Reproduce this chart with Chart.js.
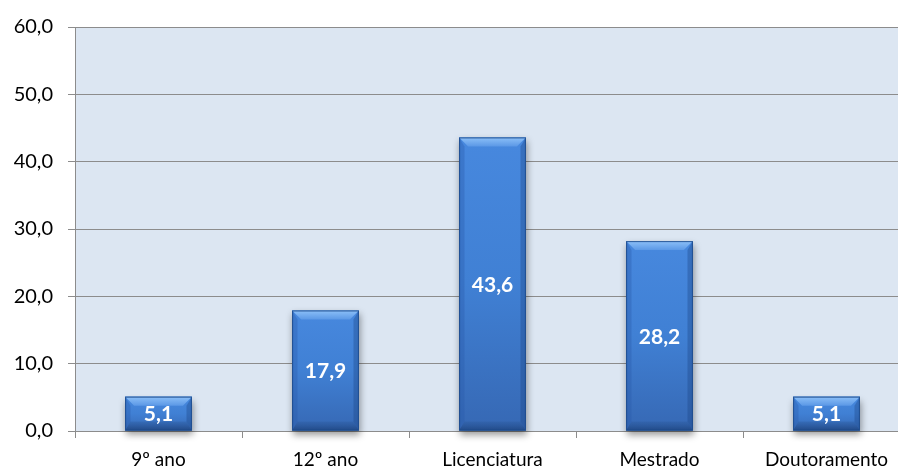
<!DOCTYPE html>
<html>
<head>
<meta charset="utf-8">
<script src="https://cdn.jsdelivr.net/npm/chart.js@4.4.1/dist/chart.umd.min.js"></script>
<style>
  html, body { margin: 0; padding: 0; background: #ffffff; overflow: hidden; }
  #wrap { width: 912px; height: 466px; }
</style>
</head>
<body>
<div id="wrap"><canvas id="c" width="912" height="466"></canvas></div>
<script>
// Education levels and share of respondents (%)
const categories = ['9º ano', '12º ano', 'Licenciatura', 'Mestrado', 'Doutoramento'];
const values = [5.1, 17.9, 43.6, 28.2, 5.1];
const yTicks = [0, 10, 20, 30, 40, 50, 60];

const FONT = 'Lato, "Open Sans", "Liberation Sans", sans-serif';
const fmt = v => v.toFixed(1).replace('.', ',');

// Light blue plot background
const plotBg = {
  id: 'plotBg',
  beforeDraw(chart) {
    const { ctx, chartArea: a } = chart;
    ctx.save();
    ctx.fillStyle = '#dce6f2';
    ctx.fillRect(a.left, a.top, a.right - a.left, a.bottom - a.top);
    ctx.restore();
  }
};

// Bevelled bar faces, soft drop shadow and value labels
const bevelBars = {
  id: 'bevelBars',
  beforeDatasetsDraw(chart) {
    const { ctx } = chart;
    const meta = chart.getDatasetMeta(0);
    ctx.save();
    meta.data.forEach(bar => {
      const l = bar.x - bar.width / 2, t = bar.y, h = bar.base - bar.y;
      ctx.shadowColor = 'rgba(0,0,0,0.4)';
      ctx.shadowBlur = 7;
      ctx.shadowOffsetX = 1;
      ctx.shadowOffsetY = 4;
      ctx.fillStyle = '#2d62ad';
      ctx.fillRect(l, t, bar.width, h);
    });
    ctx.restore();
  },
  afterDatasetsDraw(chart) {
    const { ctx } = chart;
    const meta = chart.getDatasetMeta(0);
    meta.data.forEach((bar, i) => {
      const w = bar.width, l = bar.x - w / 2, r = l + w, t = bar.y, b = bar.base;
      const bv = Math.min(9, (b - t) / 2.8);
      ctx.save();
      // main face
      const g = ctx.createLinearGradient(0, t, 0, b);
      g.addColorStop(0, '#4788de');
      g.addColorStop(0.5, '#4080d4');
      g.addColorStop(1, '#3668b4');
      ctx.fillStyle = g;
      ctx.fillRect(l, t, w, b - t);
      // top bevel
      const gt = ctx.createLinearGradient(0, t, 0, t + bv);
      gt.addColorStop(0, '#8cc0f8');
      gt.addColorStop(1, '#5b98e6');
      ctx.fillStyle = gt;
      ctx.beginPath();
      ctx.moveTo(l, t); ctx.lineTo(r, t); ctx.lineTo(r - bv, t + bv); ctx.lineTo(l + bv, t + bv); ctx.closePath();
      ctx.fill();
      // left bevel
      ctx.fillStyle = 'rgba(40,90,170,0.35)';
      ctx.beginPath();
      ctx.moveTo(l, t); ctx.lineTo(l + bv * 0.6, t + bv); ctx.lineTo(l + bv * 0.6, b - bv); ctx.lineTo(l, b); ctx.closePath();
      ctx.fill();
      // right bevel
      ctx.fillStyle = 'rgba(25,65,130,0.35)';
      ctx.beginPath();
      ctx.moveTo(r, t); ctx.lineTo(r - bv * 0.6, t + bv); ctx.lineTo(r - bv * 0.6, b - bv); ctx.lineTo(r, b); ctx.closePath();
      ctx.fill();
      // bottom bevel
      const gb = ctx.createLinearGradient(0, b - bv, 0, b);
      gb.addColorStop(0, 'rgba(40,85,150,0.3)');
      gb.addColorStop(1, 'rgba(25,60,115,0.7)');
      ctx.fillStyle = gb;
      ctx.beginPath();
      ctx.moveTo(l, b); ctx.lineTo(r, b); ctx.lineTo(r - bv * 0.6, b - bv); ctx.lineTo(l + bv * 0.6, b - bv); ctx.closePath();
      ctx.fill();
      // outline
      ctx.strokeStyle = 'rgba(30,75,140,0.9)';
      ctx.lineWidth = 1;
      ctx.strokeRect(l + 0.5, t + 0.5, w - 1, b - t - 1);
      // value label
      ctx.fillStyle = '#ffffff';
      ctx.font = 'bold 21px ' + FONT;
      ctx.textAlign = 'center';
      ctx.textBaseline = 'middle';
      ctx.fillText(fmt(values[i]), bar.x, (t + b) / 2 + 1);
      ctx.restore();
    });
  }
};

new Chart(document.getElementById('c'), {
  type: 'bar',
  data: {
    labels: categories,
    datasets: [{
      data: values,
      backgroundColor: 'rgba(0,0,0,0)',
      borderWidth: 0,
      barPercentage: 0.4,
      categoryPercentage: 1.0
    }]
  },
  options: {
    responsive: false,
    animation: false,
    devicePixelRatio: 1,
    layout: { padding: { top: 18, right: 2, left: 0, bottom: 0 } },
    plugins: { legend: { display: false }, tooltip: { enabled: false } },
    scales: {
      x: {
        grid: {
          offset: true,
          drawOnChartArea: false,
          drawTicks: true,
          tickLength: 7,
          color: '#8c8c8c'
        },
        border: { color: '#8c8c8c', width: 1 },
        ticks: {
          color: '#000000',
          font: { family: FONT, size: 19 },
          padding: 10,
          maxRotation: 0
        },
        afterFit(s) { s.height = 35; }
      },
      y: {
        min: 0,
        max: 60,
        afterBuildTicks(s) { s.ticks = yTicks.map(v => ({ value: v })); },
        grid: {
          color: '#8c8c8c',
          tickLength: 7,
          drawTicks: true
        },
        border: { color: '#8c8c8c', width: 1 },
        ticks: {
          color: '#000000',
          font: { family: FONT, size: 20 },
          padding: 15,
          callback: v => fmt(v)
        },
        afterFit(s) { s.width = 75; }
      }
    }
  },
  plugins: [plotBg, bevelBars]
});
</script>
</body>
</html>
